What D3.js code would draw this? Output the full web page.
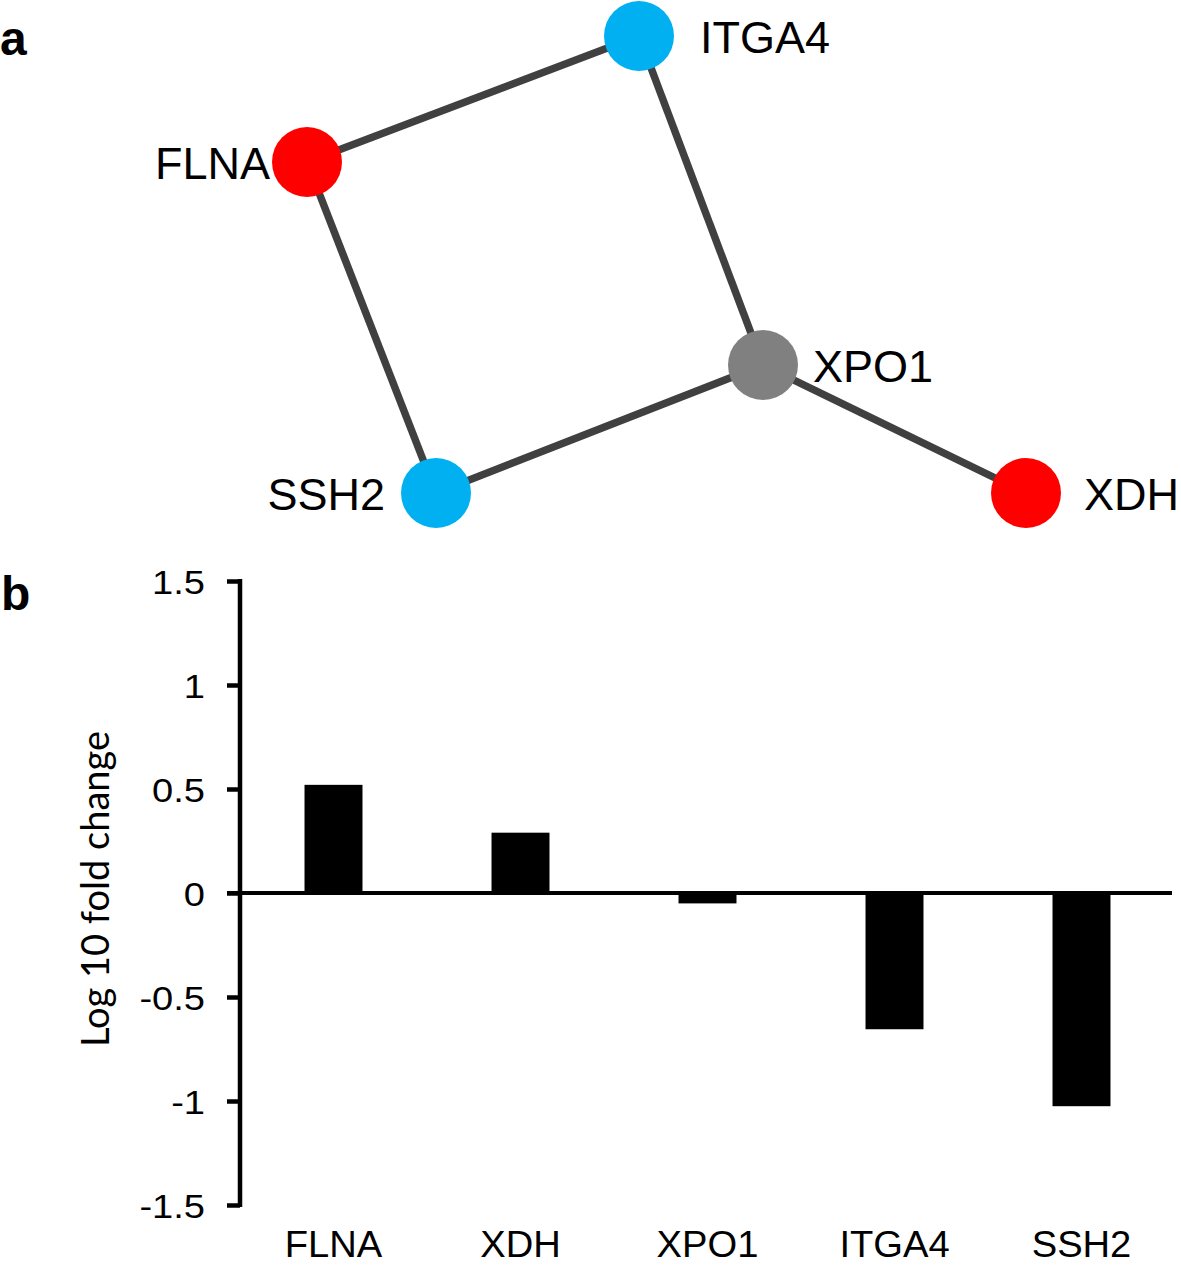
<!DOCTYPE html>
<html>
<head>
<meta charset="utf-8">
<script src="https://cdn.jsdelivr.net/npm/d3@7"></script>
<style>
  body { margin: 0; background: #fff; }
  text { font-family: "Liberation Sans", Arial, sans-serif; }
</style>
</head>
<body>
<div id="chart"></div>
<script>
// Network (panel a)
var nodeNames = ["ITGA4", "FLNA", "XPO1", "SSH2", "XDH"];
var nodeX = [639, 307, 763, 436, 1026];
var nodeY = [36, 162, 365, 493, 493];
var nodeColors = ["#00b0f0", "#ff0000", "#808080", "#00b0f0", "#ff0000"];
var edges = [["FLNA", "ITGA4"], ["ITGA4", "XPO1"], ["FLNA", "SSH2"], ["SSH2", "XPO1"], ["XPO1", "XDH"]];

// Bar chart (panel b)
var genes = ["FLNA", "XDH", "XPO1", "ITGA4", "SSH2"];
var logFold = [0.52, 0.29, -0.05, -0.655, -1.025];
var yTicks = [1.5, 1, 0.5, 0, -0.5, -1, -1.5];

var w = 1181;
var h = 1265;

var svg = d3
  .select("#chart")
  .append("svg")
  .attr("width", w)
  .attr("height", h);

// Panel letters
svg.append("text").attr("x", 0).attr("y", 55)
  .style("font-weight", "bold").style("font-size", "48px").text("a");
svg.append("text").attr("x", 1).attr("y", 610)
  .style("font-weight", "bold").style("font-size", "48px").text("b");

// ---- network ----
var nodes = nodeNames.map(function (n, i) {
  return { name: n, x: nodeX[i], y: nodeY[i], color: nodeColors[i] };
});
var byName = {};
nodes.forEach(function (n) { byName[n.name] = n; });

// label side: left for FLNA and SSH2, right otherwise
var leftLabels = { FLNA: 37, SSH2: 51 };
var rightLabels = { ITGA4: 61, XPO1: 50, XDH: 58 };

svg.append("g")
  .selectAll("line")
  .data(edges)
  .enter()
  .append("line")
  .attr("x1", function (d) { return byName[d[0]].x; })
  .attr("y1", function (d) { return byName[d[0]].y; })
  .attr("x2", function (d) { return byName[d[1]].x; })
  .attr("y2", function (d) { return byName[d[1]].y; })
  .attr("stroke", "#404040")
  .attr("stroke-width", 7.5);

svg.append("g")
  .selectAll("circle")
  .data(nodes)
  .enter()
  .append("circle")
  .attr("cx", function (d) { return d.x; })
  .attr("cy", function (d) { return d.y; })
  .attr("r", 35)
  .attr("fill", function (d) { return d.color; });

svg.append("g")
  .selectAll("text")
  .data(nodes)
  .enter()
  .append("text")
  .attr("x", function (d) {
    return leftLabels[d.name] ? d.x - leftLabels[d.name] : d.x + rightLabels[d.name];
  })
  .attr("y", function (d) { return d.y + 17; })
  .attr("text-anchor", function (d) { return leftLabels[d.name] ? "end" : "start"; })
  .style("font-size", "45px")
  .attr("fill", "#000")
  .text(function (d) { return d.name; });

// ---- bar chart ----
var xScale = d3
  .scaleBand()
  .domain(genes)
  .range([240, 1175])
  .paddingInner(0.69)
  .paddingOuter(0.345);

var yScale = d3
  .scaleLinear()
  .domain([-1.5, 1.5])
  .range([1205, 581]);

svg.append("g")
  .selectAll("rect")
  .data(logFold)
  .enter()
  .append("rect")
  .attr("x", function (d, i) { return xScale(genes[i]); })
  .attr("y", function (d) { return yScale(Math.max(0, d)); })
  .attr("width", xScale.bandwidth())
  .attr("height", function (d) { return Math.abs(yScale(d) - yScale(0)); })
  .attr("fill", "#000");

// y axis
var stretch = 1.12; // tick labels in the figure are slightly wide
var yAxis = svg.append("g")
  .attr("transform", "translate(240,0)")
  .call(d3.axisLeft(yScale).tickValues(yTicks).tickSize(13)
    .tickFormat(function (d) { return String(d); }));
yAxis.select(".domain").attr("stroke-width", 4.5).attr("d", "M0,579V1207");
yAxis.selectAll(".tick line").attr("stroke-width", 4.5);
yAxis.selectAll(".tick text")
  .attr("font-size", 34)
  .style("font-size", "34px")
  .style("font-family", "'Liberation Sans', Arial, sans-serif")
  .attr("x", -35 / stretch)
  .attr("transform", "scale(" + stretch + ",1)")
  .attr("dy", "0.36em")
  .attr("fill", "#000");

// zero line
svg.append("line")
  .attr("x1", 227).attr("x2", 1172)
  .attr("y1", yScale(0)).attr("y2", yScale(0))
  .attr("stroke", "#000").attr("stroke-width", 4);

// category labels
svg.append("g")
  .selectAll("text")
  .data(genes)
  .enter()
  .append("text")
  .attr("transform", function (d) {
    return "translate(" + (xScale(d) + xScale.bandwidth() / 2) + ",1257) scale(1.06,1)";
  })
  .attr("text-anchor", "middle")
  .style("font-size", "36px")
  .text(function (d) { return d; });

// y axis title
svg.append("text")
  .attr("transform", "translate(109,889) rotate(-90)")
  .attr("text-anchor", "middle")
  .style("font-family", "Lato, 'Open Sans', sans-serif")
  .style("font-size", "38px")
  .text("Log 10 fold change");
</script>
</body>
</html>
